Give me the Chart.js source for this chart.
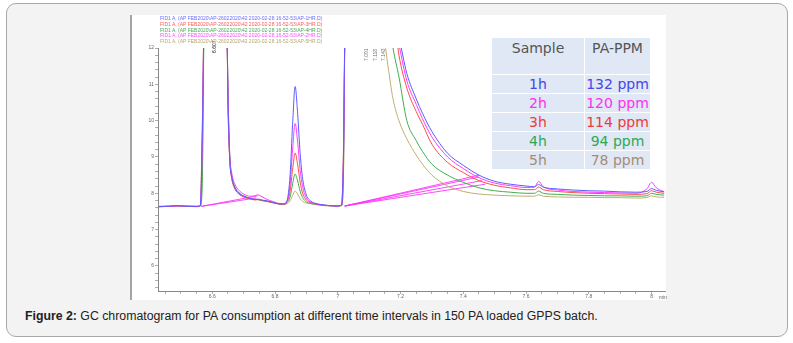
<!DOCTYPE html>
<html>
<head>
<meta charset="utf-8">
<script src="https://cdn.jsdelivr.net/npm/chart.js@4.4.1/dist/chart.umd.min.js"></script>
<style>
  html, body { margin: 0; padding: 0; background: #fff; }
  body { width: 793px; height: 343px; position: relative; overflow: hidden; font-family: "Liberation Sans", Arial, sans-serif; }
  .frame { position: absolute; left: 6px; top: 3px; width: 780px; height: 332px; border: 1px solid #a8a8a8; border-radius: 10px; background: #f3f3f3; }
  .shot { position: absolute; left: 130px; top: 15px; width: 536px; height: 285px; background: #fff; }
  .shot canvas { position: absolute; left: 0; top: 0; }
  .edge { position: absolute; left: 130px; top: 15px; width: 2px; height: 285px; background: #a4a4a4; }
  .runs { position: absolute; left: 160px; top: 16px; font-size: 5px; line-height: 5.8px; white-space: nowrap; }
  .unit { position: absolute; left: 659px; top: 294px; font-size: 5px; color: #666; }
  .ppm { position: absolute; left: 492px; top: 38px; width: 158px; border-collapse: collapse; background: #dfe8f4;
         font-family: "DejaVu Sans", sans-serif; font-size: 14px; }
  .ppm td { text-align: center; padding: 0; height: 18px; border: 1px solid #fff; line-height: 17px; }
  .ppm tr:first-child td { height: 34px; vertical-align: top; padding-top: 2px; color: #555; }
  .ppm td:first-child { width: 92px; border-left: none; }
  .ppm td:last-child { border-right: none; }
  .ppm tr:first-child td { border-top: none; }
  .ppm tr:last-child td { border-bottom: none; }
  .caption { position: absolute; left: 25px; top: 309px; font-size: 12.3px; color: #222; white-space: nowrap; }
</style>
</head>
<body>
<div class="frame"></div>
<div class="shot"><canvas id="gc" width="536" height="285"></canvas></div>
<div class="edge"></div>
<div class="runs" id="runs"></div>
<div class="unit">min</div>
<table class="ppm" id="ppm"></table>
<div class="caption"><b>Figure 2:</b> GC chromatogram for PA consumption at different time intervals in 150 PA loaded GPPS batch.</div>

<script>
// retention time (min)
const times = [6.43, 6.46, 6.49, 6.52, 6.55, 6.562, 6.568, 6.575, 6.61, 6.645,
  6.651, 6.656, 6.662, 6.672, 6.685, 6.70, 6.72, 6.735, 6.745, 6.755,
  6.775, 6.795, 6.812, 6.826, 6.838, 6.848, 6.856, 6.864, 6.872, 6.88,
  6.888, 6.90, 6.915, 6.935, 6.955, 6.975, 6.995, 7.012, 7.018, 7.024,
  7.10, 7.145, 7.16, 7.176, 7.195, 7.22, 7.25, 7.27, 7.30, 7.35,
  7.40, 7.45, 7.50, 7.55, 7.60, 7.627, 7.64, 7.655, 7.70, 7.75,
  7.80, 7.85, 7.90, 7.95, 7.985, 8.00, 8.015, 8.04];

// detector signal per sample (off-scale peaks cut at 13)
const run1h = [7.63, 7.64, 7.66, 7.64, 7.64, 7.66, 9.5, 13, 13, 13,
  10.2, 8.9, 8.45, 8.15, 8.0, 7.92, 7.86, 7.83, 7.84, 7.82,
  7.79, 7.75, 7.71, 7.71, 7.8, 8.5, 9.9, 10.94, 10.2, 9.1,
  8.4, 7.95, 7.78, 7.71, 7.68, 7.66, 7.65, 7.68, 9.0, 13,
  13, 13, 13, 13, 12.3, 11.3, 10.6, 10.2, 9.7, 9.1,
  8.77, 8.5, 8.33, 8.25, 8.2, 8.18, 8.24, 8.17, 8.12, 8.09,
  8.07, 8.06, 8.04, 8.03, 8.05, 8.13, 8.08, 8.04];
const run2h = [7.63, 7.64, 7.65, 7.65, 7.64, 7.66, 9.3, 13, 13, 13,
  10.3, 9.0, 8.55, 8.25, 8.08, 7.98, 7.92, 7.93, 7.96, 7.92,
  7.83, 7.77, 7.72, 7.71, 7.77, 8.25, 9.21, 9.92, 9.41, 8.65,
  8.18, 7.87, 7.75, 7.7, 7.67, 7.66, 7.65, 7.68, 8.8, 13,
  13, 13, 13, 13, 12.1, 11.1, 10.45, 10.05, 9.55, 9.0,
  8.68, 8.43, 8.28, 8.21, 8.16, 8.17, 8.33, 8.18, 8.09, 8.05,
  8.03, 8.02, 8.01, 8.0, 8.12, 8.3, 8.15, 8.04];
const run3h = [7.64, 7.64, 7.66, 7.64, 7.63, 7.66, 9.8, 13, 13, 13,
  10.0, 8.85, 8.4, 8.12, 7.98, 7.9, 7.85, 7.82, 7.83, 7.81,
  7.78, 7.74, 7.71, 7.7, 7.76, 8.05, 8.66, 9.11, 8.79, 8.31,
  8.0, 7.81, 7.74, 7.7, 7.67, 7.66, 7.65, 7.67, 9.2, 13,
  13, 13, 13, 13, 11.8, 10.9, 10.25, 9.9, 9.35, 8.85,
  8.57, 8.35, 8.22, 8.15, 8.1, 8.1, 8.17, 8.1, 8.05, 8.02,
  8.0, 7.99, 7.98, 7.97, 7.99, 8.07, 8.03, 8.0];
const run4h = [7.63, 7.65, 7.65, 7.64, 7.64, 7.65, 8.2, 13, 13, 13,
  10.4, 9.0, 8.5, 8.18, 8.02, 7.93, 7.86, 7.83, 7.83, 7.81,
  7.78, 7.74, 7.71, 7.7, 7.74, 7.9, 8.26, 8.53, 8.34, 8.06,
  7.88, 7.76, 7.72, 7.69, 7.67, 7.66, 7.65, 7.66, 8.6, 13,
  13, 13, 13, 12.0, 11.2, 10.0, 9.45, 9.15, 8.8, 8.5,
  8.3, 8.15, 8.07, 8.03, 8.0, 8.0, 8.06, 8.0, 7.97, 7.95,
  7.94, 7.93, 7.93, 7.92, 7.93, 8.0, 7.97, 7.95];
const run5h = [7.64, 7.64, 7.65, 7.65, 7.64, 7.65, 9.0, 13, 13, 13,
  10.1, 8.9, 8.45, 8.14, 7.99, 7.91, 7.85, 7.82, 7.82, 7.8,
  7.77, 7.73, 7.7, 7.69, 7.71, 7.79, 7.94, 8.06, 7.98, 7.85,
  7.78, 7.73, 7.71, 7.68, 7.66, 7.65, 7.65, 7.66, 8.4, 13,
  13, 12.4, 11.5, 10.6, 10.0, 9.5, 9.05, 8.8, 8.5, 8.2,
  8.05, 7.98, 7.95, 7.93, 7.92, 7.92, 7.96, 7.92, 7.9, 7.89,
  7.89, 7.88, 7.88, 7.87, 7.88, 7.93, 7.9, 7.89];

const runs = [run1h, run2h, run3h, run4h, run5h];
const sampleNames = ['1h', '2h', '3h', '4h', '5h'];
const runFiles = ['AP-1HR.D', 'AP-3HR.D', 'AP-4HR.D', 'AP-2HR.D', 'AP-5HR.D'];
const paPpm = [132, 120, 114, 94, 78];
const lineColors = ['#5b5bff', '#ff3cff', '#ff4c4c', '#3fae4f', '#bfae70'];
const textColors = ['#4646ea', '#ff2ef2', '#ee3b3b', '#2ea854', '#a58c74'];
const fileColors = ['#6a6aff', '#ff5a5a', '#4aa85a', '#ff4cff', '#b5a86e'];

// integrator baselines (magenta)
const baseStartT = [6.565, 6.565, 7.022, 7.022, 7.022, 7.022];
const baseStartV = [7.64, 7.64, 7.65, 7.65, 7.65, 7.65];
const baseEndT = [6.745, 6.74, 7.45, 7.45, 7.46, 7.47];
const baseEndV = [7.93, 7.87, 8.5, 8.45, 8.35, 8.25];

// retention time tags
const peakTagTimes = [6.607, 7.091, 7.118, 7.143];
const peakTags = ['6.607', '7.091', '7.118', '7.143'];

const xTickLabels = [6.6, 6.8, 7, 7.2, 7.4, 7.6, 7.8, 8];
const yTickLabels = [6, 7, 8, 9, 10, 11, 12];

// header lines of the run files
document.getElementById('runs').innerHTML = runFiles.map((f, i) =>
  '<div style="color:' + fileColors[i] + '">FID1 A, (AP FEB2020\\AP-26022020\\42 2020-02-28 16-52-53\\' + f + ')</div>'
).join('');

// ppm table
let rows = '<tr><td>Sample</td><td>PA-PPM</td></tr>';
sampleNames.forEach((s, i) => {
  rows += '<tr style="color:' + textColors[i] + '"><td>' + s + '</td><td>' + paPpm[i] + ' ppm</td></tr>';
});
document.getElementById('ppm').innerHTML = rows;

const datasets = runs.map((vals, k) => ({
  label: sampleNames[k],
  data: times.map((t, i) => ({ x: t, y: vals[i] })),
  borderColor: lineColors[k],
  borderWidth: 1,
  pointRadius: 0,
  cubicInterpolationMode: 'monotone',
}));
baseStartT.forEach((t, i) => {
  datasets.push({
    label: 'baseline',
    data: [{ x: t, y: baseStartV[i] }, { x: baseEndT[i], y: baseEndV[i] }],
    borderColor: 'rgba(255, 40, 255, 0.85)',
    borderWidth: 1,
    pointRadius: 0,
    order: 1,
  });
});

const tagPlugin = {
  id: 'tags',
  afterDatasetsDraw(chart) {
    const ctx = chart.ctx;
    const x = chart.scales.x;
    ctx.save();
    ctx.font = '5px "Liberation Sans", sans-serif';
    peakTags.forEach((txt, i) => {
      const px = x.getPixelForValue(peakTagTimes[i]);
      ctx.save();
      ctx.translate(px + 2, i === 0 ? 38 : 46);
      ctx.rotate(-Math.PI / 2);
      ctx.fillStyle = i === 0 ? '#222' : '#777';
      ctx.fillText(txt, 0, 0);
      ctx.restore();
    });
    ctx.restore();
  }
};

const isLabel = (list, v) => list.some(l => Math.abs(l - v) < 1e-6);

new Chart(document.getElementById('gc'), {
  type: 'line',
  data: { datasets },
  plugins: [tagPlugin],
  options: {
    responsive: false,
    animation: false,
    layout: { padding: { top: 33, left: 0, right: 0, bottom: 0 } },
    plugins: { legend: { display: false }, tooltip: { enabled: false } },
    scales: {
      x: {
        type: 'linear',
        min: 6.427,
        max: 8.046,
        afterFit(scale) { scale.height = 9; },
        afterBuildTicks(scale) {
          const t = [];
          for (let v = 6.45; v <= 8.0001; v += 0.05) t.push({ value: Math.round(v * 100) / 100 });
          scale.ticks = t;
        },
        ticks: {
          autoSkip: false, maxRotation: 0, padding: 0,
          font: { size: 5, family: 'Liberation Sans' }, color: '#666',
          callback: v => isLabel(xTickLabels, v) ? String(v) : '',
        },
        grid: { drawOnChartArea: false, tickLength: 3, color: '#999', lineWidth: 0.8 },
        border: { color: '#888', width: 1 },
      },
      y: {
        type: 'linear',
        min: 5.31,
        max: 12,
        afterFit(scale) { scale.width = 28; },
        afterBuildTicks(scale) {
          const t = [];
          for (let v = 5.4; v <= 12.0001; v += 0.2) t.push({ value: Math.round(v * 10) / 10 });
          scale.ticks = t;
        },
        ticks: {
          autoSkip: false, padding: 1,
          font: { size: 5, family: 'Liberation Sans' }, color: '#666',
          callback: v => isLabel(yTickLabels, v) ? String(v) : '',
        },
        grid: { drawOnChartArea: false, tickLength: 3, color: '#999', lineWidth: 0.8 },
        border: { color: '#888', width: 1 },
      },
    },
  },
});
</script>
</body>
</html>
